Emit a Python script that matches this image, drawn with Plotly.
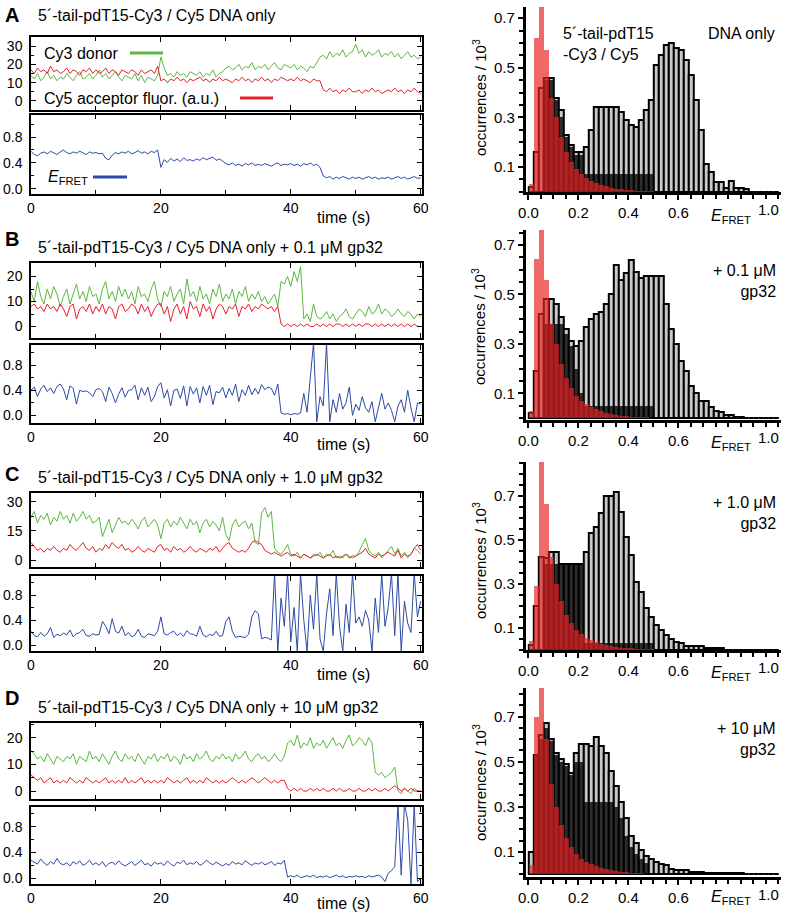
import plotly.graph_objects as go

W, H = 786, 914
FONT = "Liberation Sans, Arial, sans-serif"
GREEN = "#5cb840"
RED = "#e8202a"
BLUE = "#2c4aa5"

time_s = [0.5 * i for i in range(121)]
e_bins = [0.01 + 0.02 * k for k in range(50)]

letters = ["A", "B", "C", "D"]
titles = [
    "5´-tail-pdT15-Cy3 / Cy5 DNA only",
    "5´-tail-pdT15-Cy3 / Cy5 DNA only + 0.1 μM gp32",
    "5´-tail-pdT15-Cy3 / Cy5 DNA only + 1.0 μM gp32",
    "5´-tail-pdT15-Cy3 / Cy5 DNA only + 10 μM gp32",
]

# ---------------- time traces (0.5 s sampling) ----------------
A_donor = [
    14, 12, 15, 11, 13, 16, 12, 14, 11, 13,
    12, 15, 13, 11, 14, 16, 12, 13, 15, 12,
    14, 17, 13, 15, 12, 14, 16, 13, 11, 14,
    13, 12, 15, 11, 14, 10, 13, 12, 11, 14,
    24, 18, 14, 15, 13, 16, 14, 15, 13, 16,
    15, 14, 16, 13, 15, 14, 17, 13, 15, 16,
    18, 19, 17, 18, 20, 17, 19, 18, 21, 17,
    19, 18, 20, 17, 19, 21, 18, 17, 20, 19,
    18, 20, 17, 19, 18, 16, 19, 18, 21, 24,
    25, 23, 27, 24, 26, 25, 28, 24, 26, 27,
    31, 26, 28, 24, 27, 25, 26, 28, 24, 26,
    25, 27, 24, 26, 23, 25, 27, 24, 25, 23, 24]
A_acceptor = [
    17, 15, 18, 16, 17, 15, 19, 16, 17, 15,
    16, 18, 15, 17, 16, 14, 17, 16, 18, 15,
    17, 15, 16, 18, 15, 17, 16, 14, 17, 16,
    15, 17, 16, 14, 17, 15, 16, 17, 15, 19,
    11, 12, 10, 12, 11, 13, 11, 12, 10, 12,
    11, 12, 13, 11, 12, 10, 12, 11, 13, 11,
    12, 11, 10, 12, 11, 13, 11, 12, 10, 12,
    11, 13, 11, 12, 10, 12, 11, 13, 12, 11,
    12, 11, 13, 11, 12, 11, 10, 12, 11, 11,
    6, 5, 7, 5, 6, 4, 6, 5, 7, 5,
    5, 6, 4, 6, 5, 7, 5, 6, 4, 5,
    6, 5, 7, 5, 6, 4, 6, 5, 7, 5, 4]
A_efret = [
    0.58, 0.53, 0.51, 0.55, 0.57, 0.54, 0.58, 0.56, 0.53, 0.57,
    0.60, 0.56, 0.54, 0.57, 0.55, 0.58, 0.56, 0.53, 0.57, 0.55,
    0.56, 0.54, 0.55, 0.47, 0.45, 0.52, 0.56, 0.54, 0.57, 0.55,
    0.58, 0.54, 0.56, 0.59, 0.55, 0.57, 0.54, 0.58, 0.56, 0.60,
    0.33, 0.45, 0.41, 0.47, 0.43, 0.46, 0.42, 0.48, 0.44, 0.45,
    0.43, 0.46, 0.44, 0.48, 0.45, 0.47, 0.49, 0.44, 0.46, 0.43,
    0.39, 0.37, 0.40, 0.36, 0.38, 0.35, 0.39, 0.37, 0.40, 0.36,
    0.38, 0.36, 0.39, 0.37, 0.35, 0.38, 0.40, 0.36, 0.38, 0.37,
    0.39, 0.36, 0.38, 0.35, 0.39, 0.37, 0.40, 0.36, 0.38, 0.33,
    0.20, 0.17, 0.19, 0.15, 0.18, 0.16, 0.19, 0.17, 0.15, 0.18,
    0.16, 0.18, 0.15, 0.17, 0.19, 0.16, 0.18, 0.15, 0.17, 0.16,
    0.18, 0.15, 0.17, 0.19, 0.16, 0.18, 0.15, 0.17, 0.19, 0.16, 0.17]

B_donor = [
    14, 10, 18, 12, 9, 15, 11, 16, 13, 8,
    12, 15, 9, 13, 17, 11, 14, 10, 16, 12,
    13, 9, 15, 18, 11, 14, 10, 16, 12, 15,
    11, 14, 9, 16, 12, 13, 10, 15, 18, 11,
    8, 14, 12, 16, 10, 13, 15, 9, 19, 12,
    14, 10, 16, 11, 13, 9, 15, 12, 17, 10,
    13, 11, 15, 9, 14, 12, 16, 10, 13, 11,
    14, 10, 12, 9, 11, 13, 8, 18, 17, 20,
    16, 22, 18, 24, 3, 5, 2, 9, 4, 3,
    4, 6, 3, 5, 2, 4, 5, 7, 4, 3,
    5, 7, 6, 4, 8, 5, 6, 9, 5, 7,
    6, 4, 5, 7, 5, 4, 6, 5, 3, 5, 4]
B_acceptor = [
    8, 9, 7, 8, 6, 9, 7, 8, 6, 9,
    7, 4, 8, 9, 3, 7, 8, 6, 9, 5,
    8, 6, 9, 5, 8, 7, 3, 8, 9, 6,
    7, 9, 8, 5, 9, 6, 8, 4, 7, 9,
    9, 5, 8, 2, 7, 9, 5, 8, 3, 10,
    7, 8, 4, 9, 6, 8, 3, 7, 9, 8,
    5, 8, 7, 9, 4, 8, 7, 9, 6, 8,
    7, 9, 8, 7, 8, 6, 8, 1, 0, 1,
    0, 1, 0, 1, 0, 1, 0, 0, 1, 0,
    1, 0, 1, 0, 1, 1, 0, 1, 0, 1,
    0, 1, 0, 1, 1, 0, 1, 0, 1, 0,
    1, 0, 1, 0, 1, 0, 1, 0, 1, 0, 0]
B_efret = [
    0.40, 0.45, 0.30, 0.42, 0.48, 0.38, 0.44, 0.35, 0.46, 0.50,
    0.42, 0.25, 0.47, 0.43, 0.18, 0.40, 0.38, 0.39, 0.36, 0.30,
    0.41, 0.43, 0.38, 0.22, 0.45, 0.35, 0.20, 0.34, 0.44, 0.29,
    0.40, 0.41, 0.48, 0.25, 0.44, 0.32, 0.45, 0.22, 0.30, 0.46,
    0.52, 0.28, 0.41, 0.15, 0.40, 0.42, 0.27, 0.47, 0.15, 0.46,
    0.34, 0.44, 0.20, 0.46, 0.32, 0.48, 0.17, 0.38, 0.36, 0.45,
    0.28, 0.43, 0.32, 0.50, 0.22, 0.41, 0.32, 0.48, 0.33, 0.43,
    0.34, 0.49, 0.41, 0.45, 0.43, 0.32, 0.50, 0.04, 0.02, 0.03,
    0.01, 0.03, 0.02, 0.04, 0.35, 0.05, 0.60, 1.15, -0.10, 0.30,
    0.15, 1.15, -0.10, 0.25, 0.05, 0.35, 0.10, 0.20, 0.45, 0.00,
    0.18, 0.08, 0.30, 0.12, 0.05, 0.22, -0.10, 0.15, 0.35, 0.10,
    0.20, 0.08, -0.10, 0.15, 0.25, 0.05, 0.40, 0.12, -0.10, 0.20, 0.18]

C_donor = [
    22, 25, 19, 23, 21, 24, 18, 22, 20, 25,
    21, 23, 19, 24, 20, 22, 25, 21, 23, 19,
    20, 22, 12, 17, 21, 14, 18, 22, 19, 20,
    18, 21, 19, 16, 20, 22, 17, 19, 21, 18,
    11, 19, 21, 17, 20, 18, 22, 19, 16, 21,
    18, 20, 14, 19, 21, 17, 20, 18, 15, 22,
    13, 10, 18, 21, 17, 19, 20, 16, 19, 9,
    8, 24, 27, 22, 25, 6, 4, 3, 5, 8,
    3, 2, 4, 1, 3, 2, 1, 3, 2, 4,
    1, 3, 2, 5, 1, 2, 1, 3, 2, 1,
    2, 4, 8, 11, 5, 3, 2, 4, 1, 3,
    5, 7, 3, 6, 2, 4, 1, 3, 6, 5, 3]
C_acceptor = [
    9, 7, 5, 6, 4, 6, 5, 7, 5, 4,
    6, 5, 8, 6, 5, 7, 9, 6, 5, 7,
    4, 6, 5, 8, 6, 9, 7, 6, 8, 5,
    6, 4, 5, 7, 5, 4, 6, 5, 4, 7,
    8, 5, 6, 4, 7, 5, 6, 4, 5, 7,
    5, 4, 6, 5, 4, 6, 5, 7, 4, 6,
    8, 9, 6, 5, 4, 5, 4, 6, 9, 10,
    9, 8, 5, 4, 3, 4, 3, 2, 3, 4,
    2, 3, 2, 1, 3, 2, 1, 2, 3, 2,
    1, 2, 3, 1, 2, 1, 2, 3, 1, 2,
    2, 3, 4, 6, 3, 2, 1, 3, 2, 3,
    4, 3, 2, 5, 1, 3, 2, 3, 6, 8, 5]
C_efret = [
    0.22, 0.15, 0.13, 0.20, 0.14, 0.18, 0.28, 0.12, 0.17, 0.15,
    0.19, 0.16, 0.24, 0.13, 0.18, 0.20, 0.25, 0.15, 0.14, 0.18,
    0.16, 0.17, 0.38, 0.30, 0.18, 0.42, 0.22, 0.19, 0.30, 0.15,
    0.20, 0.13, 0.16, 0.25, 0.14, 0.12, 0.18, 0.16, 0.15, 0.22,
    0.45, 0.18, 0.16, 0.20, 0.22, 0.15, 0.19, 0.14, 0.23, 0.18,
    0.17, 0.14, 0.30, 0.16, 0.13, 0.17, 0.15, 0.22, 0.14, 0.15,
    0.38, 0.45, 0.22, 0.12, 0.14, 0.13, 0.12, 0.17, 0.45, 0.55,
    0.50, 0.10, 0.12, 0.11, 0.08, 1.15, -0.10, 0.75, 0.30, 1.15,
    0.05, 0.60, -0.10, 1.15, 0.40, -0.10, 0.80, 0.25, 1.15, 0.10,
    -0.10, 0.50, 0.90, 0.15, 1.15, 0.30, -0.10, 0.65, 0.20, 1.15,
    0.35, 0.45, 0.30, 0.55, 0.40, -0.10, 0.75, 0.20, 1.15, 0.30,
    0.60, 1.15, 0.15, 1.15, -0.10, 0.70, 0.35, 0.20, 1.15, 0.45, 0.70]

D_donor = [
    15, 14, 12, 13, 11, 14, 12, 10, 13, 12,
    11, 13, 12, 14, 10, 13, 12, 11, 15, 12,
    13, 11, 14, 12, 10, 13, 15, 12, 11, 14,
    12, 13, 11, 14, 12, 10, 13, 12, 14, 11,
    13, 12, 14, 11, 13, 12, 10, 14, 12, 13,
    11, 14, 12, 13, 15, 12, 11, 13, 12, 14,
    12, 13, 11, 14, 12, 13, 15, 12, 11, 13,
    14, 12, 13, 11, 12, 14, 12, 11, 13, 18,
    19, 17, 21, 16, 18, 17, 20, 16, 18, 17,
    19, 16, 18, 20, 17, 18, 16, 19, 21, 17,
    18, 20, 19, 17, 20, 18, 7, 6, 7, 5,
    6, 7, 9, 0, -1, 1, 0, -1, 1, 0, 0]
D_acceptor = [
    6, 5, 4, 5, 3, 4, 5, 3, 4, 3,
    4, 3, 5, 4, 3, 4, 3, 5, 4, 3,
    4, 3, 4, 5, 3, 4, 3, 4, 3, 5,
    3, 4, 3, 4, 5, 3, 4, 3, 4, 3,
    4, 3, 5, 4, 3, 4, 3, 4, 5, 3,
    4, 3, 4, 3, 5, 4, 3, 4, 3, 4,
    3, 4, 5, 4, 3, 4, 3, 4, 5, 4,
    3, 4, 5, 4, 3, 4, 3, 4, 4, 1,
    0, 1, 0, 1, 0, 0, 1, 0, 1, 0,
    1, 0, 0, 1, 0, 1, 0, 0, 1, 0,
    0, 1, 0, 0, 1, 0, 1, 0, 0, 1,
    0, 1, 2, 1, 0, 1, 0, 1, 0, 0, 0]
D_efret = [
    0.28, 0.25, 0.22, 0.30, 0.24, 0.20, 0.26, 0.22, 0.31, 0.23,
    0.21, 0.24, 0.19, 0.26, 0.22, 0.27, 0.20, 0.23, 0.28, 0.21,
    0.24, 0.20, 0.26, 0.18, 0.23, 0.25, 0.21, 0.27, 0.22, 0.19,
    0.23, 0.26, 0.20, 0.24, 0.28, 0.21, 0.23, 0.19, 0.25, 0.22,
    0.24, 0.20, 0.27, 0.22, 0.19, 0.25, 0.23, 0.28, 0.21, 0.24,
    0.22, 0.26, 0.20, 0.23, 0.28, 0.24, 0.21, 0.25, 0.22, 0.19,
    0.23, 0.20, 0.26, 0.22, 0.24, 0.21, 0.27, 0.23, 0.20, 0.24,
    0.22, 0.25, 0.21, 0.23, 0.26, 0.20, 0.24, 0.22, 0.28, 0.02,
    0.04, 0.02, 0.05, 0.01, 0.03, 0.04, 0.02, 0.05, 0.01, 0.03,
    0.02, 0.04, 0.01, 0.03, 0.05, 0.02, 0.04, 0.01, 0.03, 0.02,
    0.04, 0.02, 0.03, 0.01, 0.04, 0.02, 0.03, 0.05, 0.02, -0.05,
    0.08, 0.12, 0.18, 1.15, 0.05, 1.15, 0.90, -0.10, 1.15, -0.05, 0.00]

# ---------------- FRET histograms (0.02 bins, occurrences / 10^3) ----------------
A_hist = [0.02, 0.16, 0.42, 0.46, 0.46, 0.38, 0.33, 0.23, 0.19, 0.16,
          0.16, 0.18, 0.25, 0.34, 0.34, 0.34, 0.34, 0.34, 0.32, 0.29,
          0.27, 0.26, 0.29, 0.33, 0.37, 0.51, 0.55, 0.59, 0.60, 0.58,
          0.57, 0.53, 0.47, 0.37, 0.25, 0.11, 0.08, 0.04, 0.04, 0.015,
          0.045, 0.015, 0.015, 0.01]
A_dark = [0, 0, 0, 0.45, 0.45, 0.37, 0.30, 0.22, 0.18, 0.15,
          0.15, 0.07, 0.07, 0.07, 0.07, 0.07, 0.07, 0.07, 0.07, 0.07,
          0.07, 0.07, 0.07, 0.07, 0.07]
A_red = [0.03, 0.62, 0.85, 0.57, 0.38, 0.30, 0.22, 0.16, 0.12, 0.09,
         0.07, 0.055, 0.045, 0.035, 0.028, 0.022, 0.017, 0.013, 0.01, 0.008,
         0.006, 0.005, 0.004, 0.003, 0.002]

B_hist = [0.02, 0.19, 0.42, 0.48, 0.48, 0.46, 0.41, 0.36, 0.31, 0.29,
          0.31, 0.37, 0.40, 0.42, 0.43, 0.46, 0.50, 0.62, 0.56, 0.585,
          0.64, 0.59, 0.565, 0.575, 0.575, 0.575, 0.575, 0.46, 0.36, 0.30,
          0.23, 0.19, 0.13, 0.10, 0.07, 0.07, 0.045, 0.03, 0.025, 0.012,
          0.012, 0.005, 0.005]
B_dark = [0, 0, 0, 0.38, 0.38, 0.38, 0.38, 0.34, 0.29, 0.20,
          0.10, 0.05, 0.05, 0.05, 0.05, 0.05, 0.05, 0.05, 0.05, 0.05,
          0.05, 0.05, 0.05, 0.05, 0.05]
B_red = [0.03, 0.645, 0.85, 0.56, 0.38, 0.30, 0.22, 0.16, 0.12, 0.09,
         0.07, 0.055, 0.045, 0.035, 0.028, 0.022, 0.017, 0.013, 0.01, 0.008,
         0.006, 0.005, 0.004, 0.003, 0.002]

C_hist = [0.02, 0.20, 0.42, 0.415, 0.445, 0.445, 0.39, 0.39, 0.39, 0.39,
          0.39, 0.445, 0.53, 0.56, 0.62, 0.70, 0.70, 0.715, 0.627, 0.514,
          0.43, 0.31, 0.264, 0.188, 0.15, 0.112, 0.09, 0.067, 0.05, 0.036,
          0.03, 0.018, 0.018, 0.018, 0.018, 0.01, 0.01, 0.01, 0.01]
C_dark = [0, 0, 0, 0.39, 0.39, 0.39, 0.39, 0.39, 0.39, 0.39,
          0.39, 0.03, 0.03, 0.03, 0.03, 0.03, 0.03, 0.03, 0.03, 0.03,
          0.03, 0.03, 0.03, 0.03, 0.03]
C_red = [0.04, 0.29, 0.88, 0.66, 0.42, 0.30, 0.22, 0.16, 0.12, 0.09,
         0.07, 0.055, 0.045, 0.035, 0.028, 0.022, 0.017, 0.013, 0.01, 0.008,
         0.006, 0.005, 0.004, 0.003, 0.002]

D_hist = [0.10, 0.53, 0.62, 0.67, 0.60, 0.54, 0.51, 0.49, 0.45, 0.54,
          0.58, 0.58, 0.57, 0.61, 0.57, 0.54, 0.46, 0.39, 0.32, 0.25,
          0.17, 0.14, 0.11, 0.08, 0.07, 0.055, 0.047, 0.04, 0.025, 0.018,
          0.018, 0.018, 0.01, 0.01, 0.01, 0.004, 0.004, 0.004, 0.004, 0.004,
          0.004, 0.006, 0.006]
D_dark = [0, 0.53, 0.60, 0.65, 0.59, 0.53, 0.50, 0.48, 0.44, 0.50,
          0.50, 0.32, 0.32, 0.32, 0.32, 0.32, 0.32, 0.30, 0.25, 0.17,
          0.12, 0.09, 0.07, 0.05]
D_red = [0.04, 0.70, 0.90, 0.60, 0.40, 0.30, 0.22, 0.16, 0.12, 0.09,
         0.07, 0.055, 0.045, 0.035, 0.028, 0.022, 0.017, 0.013, 0.01, 0.008,
         0.006, 0.005, 0.004, 0.003, 0.002]

hist_labels = [
    ("5´-tail-pdT15<br>-Cy3 / Cy5", "DNA only"),
    ("+ 0.1 μM<br>gp32", None),
    ("+ 1.0 μM<br>gp32", None),
    ("+ 10 μM<br>gp32", None),
]


def pad(v):
    return list(v) + [0] * (50 - len(v))


def fx(px):
    return px / W


def fy(py):
    return 1 - py / H


panels = [
    dict(donor=A_donor, acc=A_acceptor, eff=A_efret, grey=A_hist, dark=A_dark, red=A_red,
         top=(37, 110), bot=(115, 194), ytop=[-5, 35], ytv=[0, 10, 20, 30], ymin=5,
         ybot=[-0.08, 1.14], hist=(7, 192), hr=[-0.001, 0.745],
         letter_y=15, title_y=16, time_y=218, efret_y=217, occ_y=98),
    dict(donor=B_donor, acc=B_acceptor, eff=B_efret, grey=B_hist, dark=B_dark, red=B_red,
         top=(263, 338), bot=(345, 423), ytop=[-4.6, 25.4], ytv=[0, 10, 20], ymin=5,
         ybot=[-0.12, 1.12], hist=(230, 420), hr=[-0.008, 0.761],
         letter_y=239, title_y=247, time_y=444, efret_y=443, occ_y=327),
    dict(donor=C_donor, acc=C_acceptor, eff=C_efret, grey=C_hist, dark=C_dark, red=C_red,
         top=(493, 567), bot=(576, 651), ytop=[-3.6, 34.5], ytv=[0, 15, 30], ymin=7.5,
         ybot=[-0.096, 1.104], hist=(462, 650), hr=[-0.001, 0.853],
         letter_y=474, title_y=477, time_y=674, efret_y=673, occ_y=561),
    dict(donor=D_donor, acc=D_acceptor, eff=D_efret, grey=D_hist, dark=D_dark, red=D_red,
         top=(723, 799), bot=(807, 884), ytop=[-3, 25.5], ytv=[0, 10, 20], ymin=5,
         ybot=[-0.088, 1.105], hist=(688, 877), hr=[-0.012, 0.827],
         letter_y=698, title_y=707, time_y=903, efret_y=897, occ_y=783),
]

fig = go.Figure()
layout = {}
annotations = []
shapes = []

tickfont = dict(family=FONT, size=14, color="black")
XL, XR = 31, 422
HXL, HXR = 525.8, 780.8

for p, P in enumerate(panels):
    nt, nb, nh = 3 * p + 1, 3 * p + 2, 3 * p + 3

    def ax(n, kind):
        return (kind + "axis") if n == 1 else (kind + "axis%d" % n)

    def ref(n, kind):
        return kind if n == 1 else kind + str(n)

    common = dict(showline=True, linecolor="black", linewidth=1.5, mirror="ticks",
                  ticks="inside", ticklen=5, tickwidth=1.2, tickcolor="black",
                  showgrid=False, zeroline=False, tickfont=tickfont, automargin=False)
    # top trace panel
    layout[ax(nt, "x")] = dict(common, domain=[fx(XL), fx(XR)], range=[0, 60.2],
                               anchor=ref(nt, "y"), tickvals=[0, 20, 40, 60], showticklabels=False,
                               minor=dict(dtick=10, ticks="inside", ticklen=4, tickcolor="black"))
    layout[ax(nt, "y")] = dict(common, domain=[fy(P["top"][1]), fy(P["top"][0])], range=P["ytop"],
                               anchor=ref(nt, "x"), tickvals=P["ytv"], ticktext=[str(v) for v in P["ytv"]],
                               ticklabelstandoff=4,
                               minor=dict(dtick=P["ymin"], ticks="inside", ticklen=3, tickcolor="black"))
    # bottom trace panel
    layout[ax(nb, "x")] = dict(common, domain=[fx(XL), fx(XR)], range=[0, 60.2],
                               anchor=ref(nb, "y"), tickvals=[0, 20, 40, 60], ticktext=["0", "20", "40", "60"],
                               minor=dict(dtick=10, ticks="inside", ticklen=4, tickcolor="black"))
    layout[ax(nb, "y")] = dict(common, domain=[fy(P["bot"][1]), fy(P["bot"][0])], range=P["ybot"],
                               anchor=ref(nb, "x"), tickvals=[0, 0.4, 0.8], ticktext=["0.0", "0.4", "0.8"],
                               ticklabelstandoff=4,
                               minor=dict(dtick=0.2, ticks="inside", ticklen=3, tickcolor="black"))
    # histogram
    layout[ax(nh, "x")] = dict(domain=[fx(HXL), fx(HXR)], range=[-0.01, 1.01], anchor=ref(nh, "y"),
                               showline=True, linecolor="black", linewidth=3, ticks="outside",
                               ticklen=5, tickwidth=2, tickcolor="black", showgrid=False, zeroline=False,
                               tickvals=[0, 0.2, 0.4, 0.6], ticktext=["0.0", "0.2", "0.4", "0.6"],
                               tickfont=dict(family=FONT, size=15, color="black"), automargin=False,
                               minor=dict(dtick=0.05, ticks="outside", ticklen=4, tickwidth=2, tickcolor="black"))
    layout[ax(nh, "y")] = dict(domain=[fy(P["hist"][1]), fy(P["hist"][0])], range=P["hr"], anchor=ref(nh, "x"),
                               showline=True, linecolor="black", linewidth=3, ticks="outside",
                               ticklen=5, tickwidth=2, tickcolor="black", showgrid=False, zeroline=False,
                               tickvals=[0.1, 0.3, 0.5, 0.7], ticktext=["0.1", "0.3", "0.5", "0.7"],
                               tickfont=dict(family=FONT, size=15, color="black"), automargin=False,
                               minor=dict(dtick=0.05, ticks="outside", ticklen=4, tickwidth=2, tickcolor="black"))

    # traces
    fig.add_trace(go.Scatter(x=time_s, y=P["donor"], mode="lines", line=dict(color=GREEN, width=1),
                             xaxis=ref(nt, "x"), yaxis=ref(nt, "y")))
    fig.add_trace(go.Scatter(x=time_s, y=P["acc"], mode="lines", line=dict(color=RED, width=1),
                             xaxis=ref(nt, "x"), yaxis=ref(nt, "y")))
    fig.add_trace(go.Scatter(x=time_s, y=P["eff"], mode="lines", line=dict(color=BLUE, width=1),
                             xaxis=ref(nb, "x"), yaxis=ref(nb, "y")))
    # histograms
    fig.add_trace(go.Bar(x=e_bins, y=pad(P["grey"]), width=0.02,
                         marker=dict(color="#c9c9c9", line=dict(color="black", width=2)),
                         xaxis=ref(nh, "x"), yaxis=ref(nh, "y")))
    fig.add_trace(go.Bar(x=e_bins, y=pad(P["dark"]), width=0.02,
                         marker=dict(color="rgba(0,0,0,0.78)", line=dict(width=0)),
                         xaxis=ref(nh, "x"), yaxis=ref(nh, "y")))
    fig.add_trace(go.Bar(x=e_bins, y=pad(P["red"]), width=0.02,
                         marker=dict(color="rgba(232,32,36,0.68)", line=dict(width=0)),
                         xaxis=ref(nh, "x"), yaxis=ref(nh, "y")))

    # texts
    annotations.append(dict(x=fx(3), y=fy(P["letter_y"]), xref="paper", yref="paper", xanchor="left",
                            yanchor="middle", showarrow=False, text="<b>%s</b>" % letters[p],
                            font=dict(family=FONT, size=20, color="black")))
    annotations.append(dict(x=fx(36), y=fy(P["title_y"]), xref="paper", yref="paper", xanchor="left",
                            yanchor="middle", showarrow=False, text=titles[p],
                            font=dict(family=FONT, size=16, color="black")))
    annotations.append(dict(x=fx(343), y=fy(P["time_y"]), xref="paper", yref="paper", xanchor="center",
                            yanchor="middle", showarrow=False, text="time (s)",
                            font=dict(family=FONT, size=16, color="black")))
    annotations.append(dict(x=fx(709), y=fy(P["efret_y"]), xref="paper", yref="paper", xanchor="left",
                            yanchor="middle", showarrow=False, text="<i>E</i><sub>FRET</sub>",
                            font=dict(family=FONT, size=16, color="black")))
    annotations.append(dict(x=fx(768), y=fy(P["hist"][1] + 17), xref="paper", yref="paper", xanchor="center",
                            yanchor="middle", showarrow=False, text="1.0",
                            font=dict(family=FONT, size=15, color="black")))
    annotations.append(dict(x=fx(479), y=fy(P["occ_y"]), xref="paper", yref="paper", xanchor="center",
                            yanchor="middle", showarrow=False, textangle=-90,
                            text="occurrences / 10<sup>3</sup>",
                            font=dict(family=FONT, size=15, color="black")))
    lab, lab2 = hist_labels[p]
    if p == 0:
        annotations.append(dict(x=fx(561), y=fy(44), xref="paper", yref="paper", xanchor="left",
                                yanchor="middle", showarrow=False, text=lab, align="left",
                                font=dict(family=FONT, size=16, color="black")))
        annotations.append(dict(x=fx(706), y=fy(33), xref="paper", yref="paper", xanchor="left",
                                yanchor="middle", showarrow=False, text=lab2,
                                font=dict(family=FONT, size=16, color="black")))
    else:
        annotations.append(dict(x=fx(778), y=fy(P["hist"][0] + 51), xref="paper", yref="paper",
                                xanchor="right", yanchor="middle", showarrow=False, text=lab, align="right",
                                font=dict(family=FONT, size=16, color="black")))

# legend-like labels in panel A
annotations.append(dict(x=fx(42), y=fy(53), xref="paper", yref="paper", xanchor="left", yanchor="middle",
                        showarrow=False, text="Cy3 donor", font=dict(family=FONT, size=16, color="black")))
annotations.append(dict(x=fx(42), y=fy(98), xref="paper", yref="paper", xanchor="left", yanchor="middle",
                        showarrow=False, text="Cy5 acceptor fluor. (a.u.)",
                        font=dict(family=FONT, size=16, color="black")))
annotations.append(dict(x=fx(46), y=fy(178), xref="paper", yref="paper", xanchor="left", yanchor="middle",
                        showarrow=False, text="<i>E</i><sub>FRET</sub>",
                        font=dict(family=FONT, size=16, color="black")))
for (x0, x1, yy, col) in [(130, 163, 53, GREEN), (240, 273, 98, RED), (93, 127, 177, BLUE)]:
    shapes.append(dict(type="line", xref="paper", yref="paper", x0=fx(x0), x1=fx(x1), y0=fy(yy), y1=fy(yy),
                       line=dict(color=col, width=3)))

fig.update_layout(
    width=W, height=H, margin=dict(l=0, r=0, t=0, b=0),
    paper_bgcolor="white", plot_bgcolor="white", showlegend=False,
    barmode="overlay", bargap=0,
    annotations=annotations, shapes=shapes,
    font=dict(family=FONT, color="black"),
    **layout,
)

fig.write_html("out.html", config={"displayModeBar": False},
               post_script="document.body.style.margin='0px';document.body.style.overflow='hidden';")
